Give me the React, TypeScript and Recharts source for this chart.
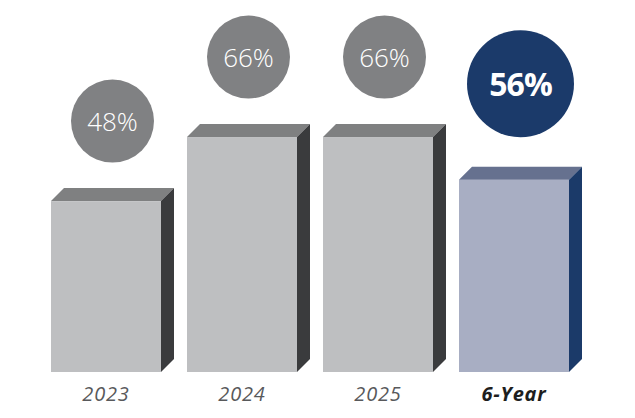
import { BarChart, Bar, XAxis, YAxis } from 'recharts'

const categories = ['2023', '2024', '2025', '6-Year']
// bar heights (percent)
const barValues = [48, 66, 66, 54]
const circleLabels = ['48%', '66%', '66%', '56%']
const highlightIndex = 3

const DEPTH = 13

const GRAY = { front: '#bebfc1', top: '#7f8081', side: '#3a3b3d', circle: '#808183' }
const NAVY = { front: '#a8aec3', top: '#66718f', side: '#1b3a69', circle: '#1b3a6a' }

const data = categories.map((name, i) => ({
  name,
  value: barValues[i],
  label: circleLabels[i],
}))

function Box3D(props: any) {
  const { x, y, width, height, index, payload } = props
  const hi = index === highlightIndex
  const c = hi ? NAVY : GRAY
  const d = DEPTH
  const r = hi ? 53.5 : 41.5
  const cx = x + width / 2 + d / 2
  const cy = y - (hi ? 96 : 80)
  return (
    <g>
      <rect x={x} y={y} width={width} height={height} fill={c.front} />
      <polygon
        points={`${x},${y} ${x + d},${y - d} ${x + width + d},${y - d} ${x + width},${y}`}
        fill={c.top}
      />
      <polygon
        points={`${x + width},${y} ${x + width + d},${y - d} ${x + width + d},${y + height - d} ${x + width},${y + height}`}
        fill={c.side}
      />
      <circle cx={cx} cy={cy} r={r} fill={c.circle} />
      <text
        x={cx}
        y={cy}
        textAnchor="middle"
        dominantBaseline="central"
        fill="#ffffff"
        fontFamily="'Open Sans', sans-serif"
        fontWeight={hi ? 700 : 300}
        fontSize={hi ? 32 : 26}
        letterSpacing={hi ? -1 : 0}
      >
        {payload.label}
      </text>
    </g>
  )
}

function CategoryTick(props: any) {
  const { x, y, payload, index } = props
  const hi = index === highlightIndex
  return (
    <text
      x={x}
      y={y + 21}
      textAnchor="middle"
      fill={hi ? '#1e1e1e' : '#58595b'}
      fontFamily="'Open Sans', sans-serif"
      fontStyle="italic"
      fontWeight={hi ? 700 : 400}
      fontSize={20}
      letterSpacing={0.8}
    >
      {payload.value}
    </text>
  )
}

export default function App() {
  return (
    <div style={{ position: 'absolute', left: 0, top: 0, width: 635, height: 418, background: '#fff' }}>
      <BarChart
        width={635}
        height={418}
        data={data}
        margin={{ top: 16, right: 53, left: 38, bottom: 6 }}
      >
        <XAxis
          dataKey="name"
          height={40}
          axisLine={false}
          tickLine={false}
          interval={0}
          tick={<CategoryTick />}
        />
        <YAxis hide domain={[0, 100]} />
        <Bar dataKey="value" barSize={110} shape={<Box3D />} isAnimationActive={false} />
      </BarChart>
    </div>
  )
}
